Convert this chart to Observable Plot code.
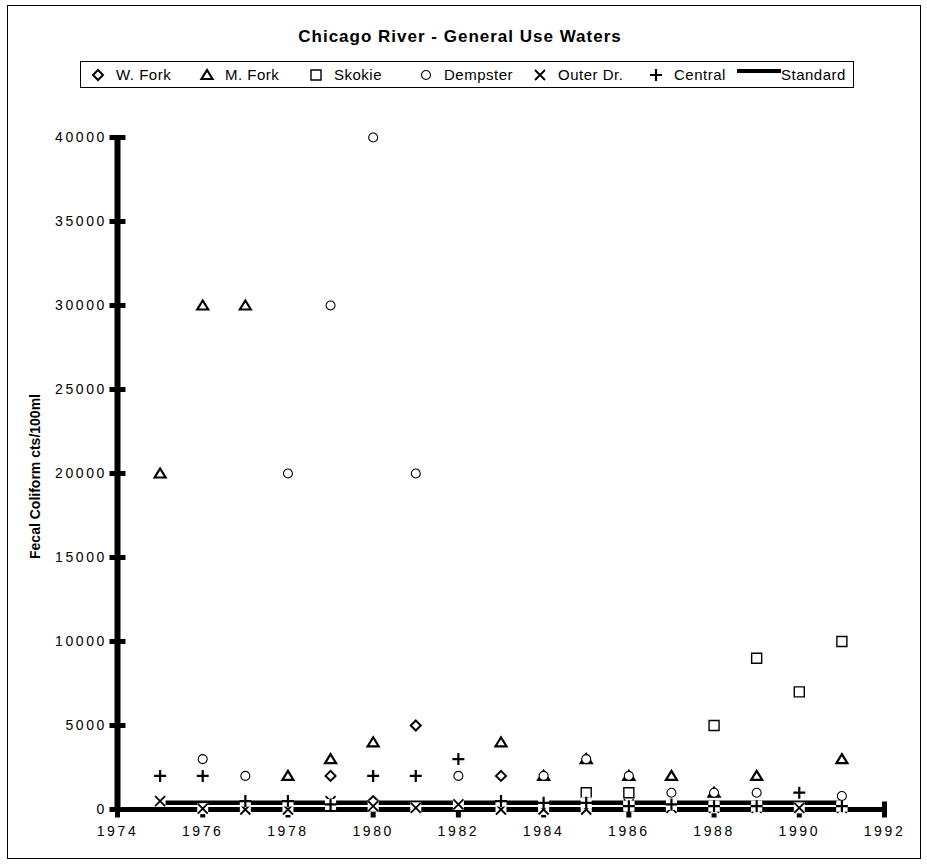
<!DOCTYPE html>
<html>
<head>
<meta charset="utf-8">
<script src="https://cdn.jsdelivr.net/npm/d3@7"></script>
<script src="https://cdn.jsdelivr.net/npm/@observablehq/plot@0.6"></script>
<style>
  html, body { margin: 0; padding: 0; background: #fff; }
  body { font-family: "Liberation Sans", Arial, sans-serif; color: #000; }
  #page { position: relative; width: 927px; height: 867px; }
  #border { position: absolute; left: 7px; top: 5px; width: 914px; height: 854px;
            border: 1px solid #000; box-sizing: border-box; pointer-events: none; }
  #header { position: relative; height: 95px; }
  #title { position: absolute; left: 0; width: 920px; top: 27px; text-align: center;
           font-weight: bold; font-size: 17px; line-height: 20px; letter-spacing: 1px; }
  #legend { position: absolute; left: 80px; top: 61px; width: 774px; height: 27px;
            border: 1px solid #000; box-sizing: border-box; font-size: 15px; letter-spacing: 0.5px; }
  #legend .item { position: absolute; top: 0; height: 25px; line-height: 25px; white-space: nowrap; }
  #legend svg { position: absolute; overflow: visible; }
  #chart svg { display: block; }
  g[aria-label="x-axis tick label"] text,
  g[aria-label="y-axis tick label"] text { letter-spacing: 2.6px; }
</style>
</head>
<body>
<div id="page">
  <div id="border"></div>
  <div id="header">
    <div id="title">Chicago River - General Use Waters</div>
    <div id="legend"></div>
  </div>
  <div id="chart"></div>
</div>
<script>
// Fecal coliform counts (cts/100ml) by sampling station, [year, value]
const wFork = [[1979, 2000], [1980, 500], [1981, 5000], [1983, 2000]];
const mFork = [[1975, 20000], [1976, 30000], [1977, 30000], [1978, 2000], [1979, 3000], [1980, 4000],
               [1983, 4000], [1984, 2000], [1985, 3000], [1986, 2000], [1987, 2000], [1988, 1000],
               [1989, 2000], [1991, 3000]];
const skokie = [[1985, 1000], [1986, 1000], [1988, 5000], [1989, 9000], [1990, 7000], [1991, 10000]];
const dempster = [[1976, 3000], [1977, 2000], [1978, 20000], [1979, 30000], [1980, 40000], [1981, 20000],
                  [1982, 2000], [1984, 2000], [1985, 3000], [1986, 2000], [1987, 1000], [1988, 1000],
                  [1989, 1000], [1991, 800]];
const outerDr = [[1975, 500], [1976, 50], [1977, 0], [1978, 0], [1979, 500], [1980, 200], [1981, 100],
                 [1982, 300], [1983, 0], [1984, 0], [1985, 0], [1986, 300], [1987, 100], [1988, 100],
                 [1989, 100], [1990, 100], [1991, 100]];
const central = [[1975, 2000], [1976, 2000], [1977, 500], [1978, 500], [1979, 300], [1980, 2000],
                 [1981, 2000], [1982, 3000], [1983, 500], [1984, 400], [1985, 400], [1986, 200],
                 [1987, 300], [1988, 200], [1989, 200], [1990, 1000], [1991, 200]];

// General use water quality standard
const standardYears = [1975, 1991];
const standardValue = 400;

// Axis ticks
const xTicks = [1974, 1976, 1978, 1980, 1982, 1984, 1986, 1988, 1990, 1992];
const yTicks = [0, 5000, 10000, 15000, 20000, 25000, 30000, 35000, 40000];

// Marker glyphs with fixed pixel geometry
const diamond = {draw(c) { c.moveTo(0, -5); c.lineTo(5, 0); c.lineTo(0, 5); c.lineTo(-5, 0); c.closePath(); }};
const triangle = {draw(c) { c.moveTo(0, -5); c.lineTo(5.5, 4); c.lineTo(-5.5, 4); c.closePath(); }};
const square = {draw(c) { c.rect(-5, -5, 10, 10); }};
const circle = {draw(c) { c.moveTo(4.5, 0); c.arc(0, 0, 4.5, 0, 2 * Math.PI); }};
const times = {draw(c) { c.moveTo(-5, -5); c.lineTo(5, 5); c.moveTo(5, -5); c.lineTo(-5, 5); }};
const plus = {draw(c) { c.moveTo(-6, 0); c.lineTo(6, 0); c.moveTo(0, -6); c.lineTo(0, 6); }};
const backing = {draw(c) { c.rect(-5.5, -5.5, 11, 11); }};
const hTick = {draw(c) { c.moveTo(-8, 0); c.lineTo(8, 0); }};
const vTick = {draw(c) { c.moveTo(0, -8); c.lineTo(0, 8); }};

const series = [
  {name: "W. Fork", data: wFork, symbol: diamond, width: 2, filled: true},
  {name: "M. Fork", data: mFork, symbol: triangle, width: 2.2, filled: true},
  {name: "Skokie", data: skokie, symbol: square, width: 1.4, filled: true},
  {name: "Dempster", data: dempster, symbol: circle, width: 1.1, filled: true},
  {name: "Outer Dr.", data: outerDr, symbol: times, width: 1.8, filled: false},
  {name: "Central", data: central, symbol: plus, width: 2.2, filled: false}
];

const seriesMarks = series.flatMap(s => {
  const common = {x: d => d[0], y: d => d[1], r: 5};
  return s.filled
    ? [Plot.dot(s.data, {...common, symbol: s.symbol, fill: "white", stroke: "black", strokeWidth: s.width})]
    : [Plot.dot(s.data, {...common, symbol: backing, fill: "white", stroke: "none"}),
       Plot.dot(s.data, {...common, symbol: s.symbol, fill: "none", stroke: "black", strokeWidth: s.width, strokeLinecap: "butt"})];
});

const chart = Plot.plot({
  width: 927,
  height: 772,
  marginTop: 42,
  marginBottom: 58,
  marginLeft: 117,
  marginRight: 43,
  x: {domain: [1974, 1992]},
  y: {domain: [0, 40000]},
  style: {fontFamily: "'Liberation Sans', Arial, sans-serif", fontSize: "14px", color: "#000", background: "transparent"},
  marks: [
    Plot.axisY(yTicks, {tickSize: 0, tickPadding: 10.5, tickFormat: d => String(d), fontSize: 14, label: null}),
    Plot.axisX(xTicks, {tickSize: 0, tickPadding: 17, tickFormat: d => String(d), fontSize: 14, label: null}),
    Plot.text(["Fecal Coliform cts/100ml"], {frameAnchor: "left", textAnchor: "middle", dx: -82, dy: 3, rotate: -90, fontWeight: "bold", fontSize: 14}),
    Plot.line(standardYears, {x: d => d, y: () => standardValue, stroke: "black", strokeWidth: 4.5, strokeLinecap: "butt"}),
    Plot.ruleX([1974], {y1: 0, y2: 40000, stroke: "black", strokeWidth: 6}),
    Plot.ruleY([0], {x1: 1974, x2: 1992, stroke: "black", strokeWidth: 5}),
    Plot.dot(yTicks, {x: () => 1974, y: d => d, r: 5, symbol: hTick, stroke: "black", strokeWidth: 5, strokeLinecap: "butt"}),
    Plot.dot(xTicks, {x: d => d, y: () => 0, r: 5, symbol: vTick, stroke: "black", strokeWidth: 5, strokeLinecap: "butt"}),
    ...seriesMarks
  ]
});
document.getElementById("chart").appendChild(chart);

// Legend: symbol and label for each station, then the standard line
const legend = d3.select("#legend");
const symbolX = [17, 126, 235, 345, 459, 575]; // offsets of each symbol inside the box
series.forEach((s, i) => {
  const p = d3.path();
  s.symbol.draw(p);
  const item = legend.append("div").attr("class", "item").style("left", `${symbolX[i] - 8}px`);
  item.append("svg").attr("width", 16).attr("height", 16)
      .style("left", "0px").style("top", "4.5px")
      .append("path").attr("d", p.toString()).attr("transform", "translate(8,8)")
      .attr("fill", "none").attr("stroke", "black").attr("stroke-width", s.width);
  item.append("span").style("margin-left", "26px").text(s.name);
});
const std = legend.append("div").attr("class", "item").style("left", "656px");
std.append("div").style("position", "absolute").style("left", "0px").style("top", "7px")
   .style("width", "44px").style("height", "4px").style("background", "#000");
std.append("span").style("margin-left", "44px").text("Standard");
</script>
</body>
</html>
